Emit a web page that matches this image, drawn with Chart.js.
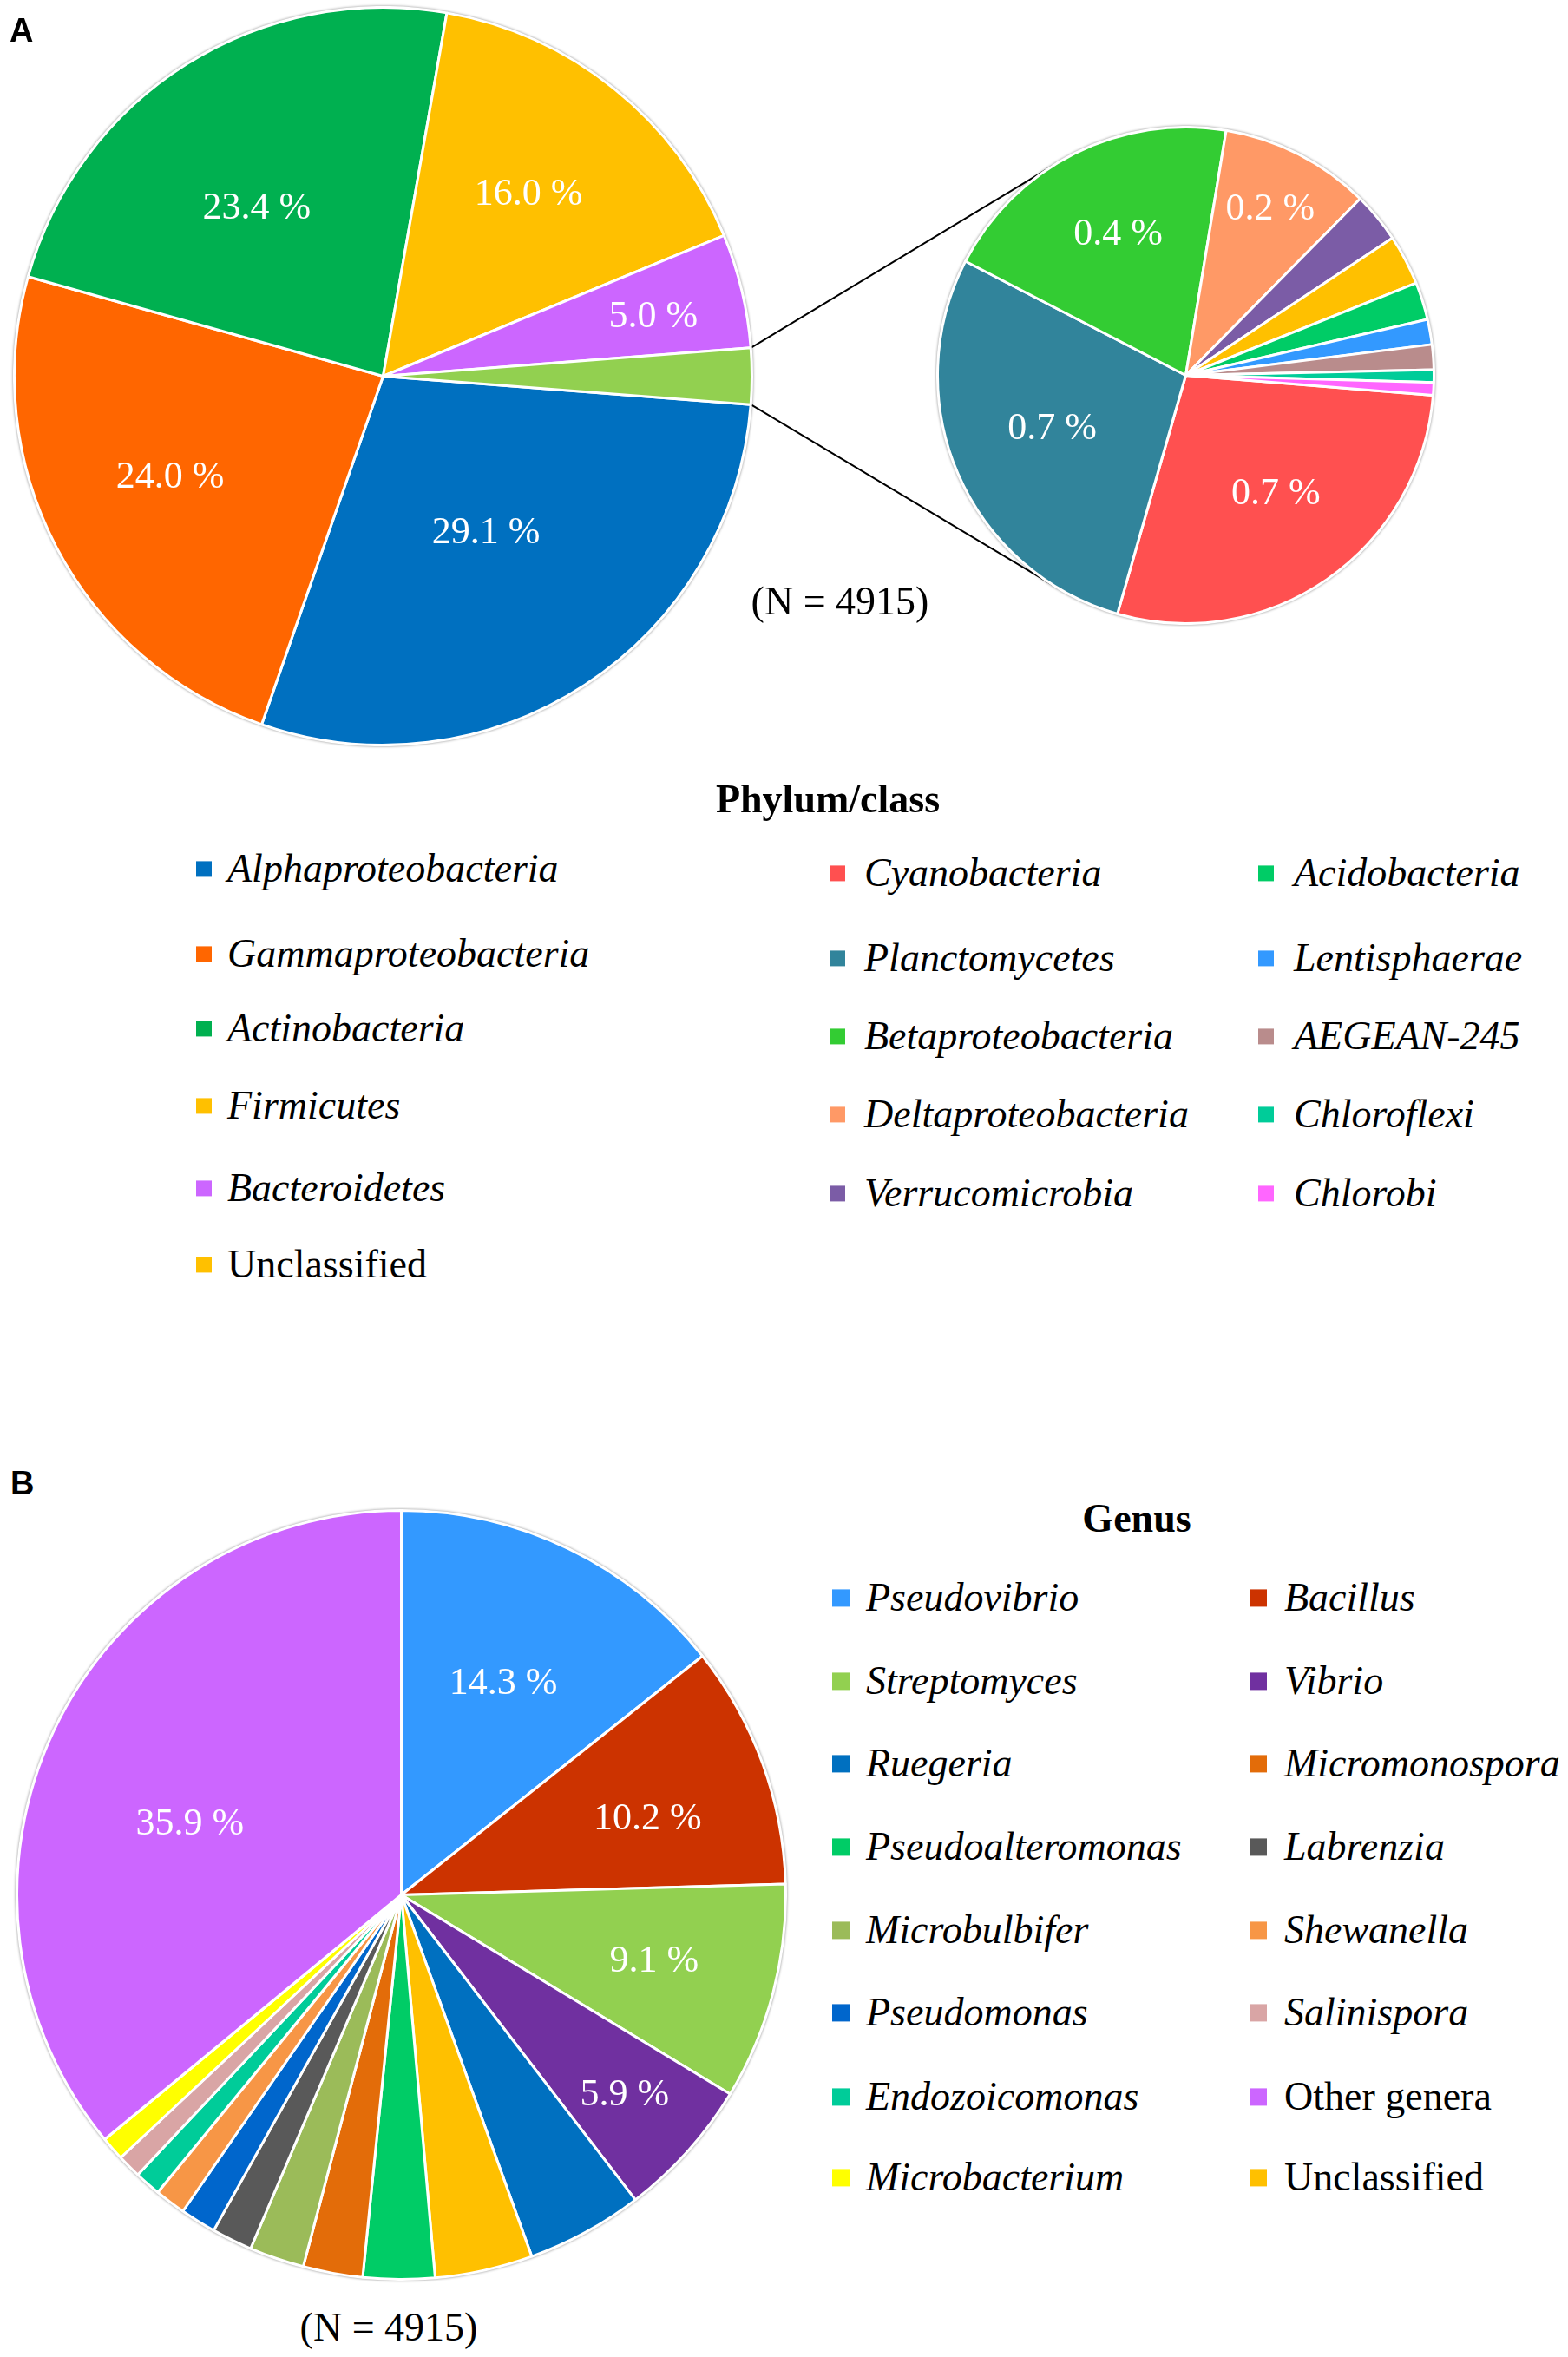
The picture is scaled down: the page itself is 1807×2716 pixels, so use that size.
<!DOCTYPE html>
<html>
<head>
<meta charset="utf-8">
<title>Phylum/class and genus composition</title>
<script src="https://cdn.jsdelivr.net/npm/chart.js@4.4.1/dist/chart.umd.min.js"></script>
<style>
  html, body { margin: 0; padding: 0; background: #fff; }
  #page {
    position: relative; width: 1807px; height: 2716px; overflow: hidden;
    font-family: "Liberation Serif", "Times New Roman", serif; color: #000;
  }
  #page > * { position: absolute; }
  .pie { filter: drop-shadow(0 0 1.5px rgba(0, 0, 0, 0.45)); }
  .tag { font-family: "Liberation Sans", Arial, sans-serif; font-weight: bold; font-size: 38px; line-height: 1; }
  .note { font-size: 46px; line-height: 1; white-space: nowrap; transform: translate(-50%, -50%); }
  .legend-title { font-weight: bold; font-size: 46px; line-height: 1; transform: translate(-50%, -50%); }
  .item { display: flex; align-items: center; white-space: nowrap; font-size: 46px; line-height: 1.2; transform: translateY(-50%); }
  .item .box { display: inline-block; flex: none; }
  .item .name { font-style: italic; }
  .item .name.plain { font-style: normal; }
</style>
</head>
<body>
<div id="page">
  <canvas id="connectors" width="1807" height="900" style="left:0;top:0"></canvas>
  <canvas id="phylumMainChart" class="pie" width="853" height="853" style="left:15px;top:7px"></canvas>
  <canvas id="phylumDetailChart" class="pie" width="575" height="575" style="left:1079px;top:145px"></canvas>
  <canvas id="genusChart" class="pie" width="889" height="889" style="left:18px;top:1739px"></canvas>

  <div class="tag" style="left:11px;top:16px">A</div>
  <div class="tag" style="left:12px;top:1690px">B</div>
  <div class="note" style="left:968px;top:693px">(N = 4915)</div>
  <div class="note" style="left:448px;top:2682px">(N = 4915)</div>
  <div class="legend-title" style="left:954px;top:921px">Phylum/class</div>
  <div class="legend-title" style="left:1310px;top:1750px">Genus</div>
</div>

<script>
// ---- data (percent of N = 4915) ----
const phylumMainLabels = ['Alphaproteobacteria', 'Gammaproteobacteria', 'Actinobacteria', 'Firmicutes', 'Bacteroidetes'];
const phylumMainValues = [29.1, 24.0, 23.4, 16.0, 5.0];
const phylumMainColors = ['#0070C0', '#FF6600', '#00B050', '#FFC000', '#CC66FF'];
const phylumOtherColor = '#92D050';

const phylumDetailLabels = ['Cyanobacteria', 'Planctomycetes', 'Betaproteobacteria', 'Deltaproteobacteria',
  'Verrucomicrobia', 'Unclassified', 'Acidobacteria', 'Lentisphaerae', 'AEGEAN-245', 'Chloroflexi', 'Chlorobi'];
const phylumDetailValues = [0.69, 0.69, 0.49, 0.24, 0.08, 0.08, 0.06, 0.04, 0.04, 0.02, 0.02];
const phylumDetailColors = ['#FF5050', '#31849B', '#33CC33', '#FF9966', '#7B5CA6', '#FFC000',
  '#00CC66', '#3399FF', '#B98C8C', '#00CC99', '#FF66FF'];
const phylumDetailShown = ['0.7 %', '0.7 %', '0.4 %', '0.2 %', '', '', '', '', '', '', ''];

const genusLabels = ['Pseudovibrio', 'Bacillus', 'Streptomyces', 'Vibrio', 'Ruegeria', 'Unclassified',
  'Pseudoalteromonas', 'Micromonospora', 'Microbulbifer', 'Labrenzia', 'Pseudomonas', 'Shewanella',
  'Endozoicomonas', 'Salinispora', 'Microbacterium', 'Other genera'];
const genusValues = [14.3, 10.2, 9.1, 5.9, 4.9, 4.1, 3.0, 2.5, 2.3, 1.7, 1.5, 1.3, 1.1, 1.0, 1.0, 35.9];
const genusColors = ['#3399FF', '#CC3300', '#92D050', '#7030A0', '#0070C0', '#FFC000',
  '#00CC66', '#E36C09', '#9BBB59', '#595959', '#0066CC', '#F79646',
  '#00CC99', '#D9A5A5', '#FFFF00', '#CC66FF'];

// legend columns, in the order they are printed
const phylumLegendCols = [
  ['Alphaproteobacteria', 'Gammaproteobacteria', 'Actinobacteria', 'Firmicutes', 'Bacteroidetes', 'Unclassified'],
  ['Cyanobacteria', 'Planctomycetes', 'Betaproteobacteria', 'Deltaproteobacteria', 'Verrucomicrobia'],
  ['Acidobacteria', 'Lentisphaerae', 'AEGEAN-245', 'Chloroflexi', 'Chlorobi']
];
const genusLegendCols = [
  ['Pseudovibrio', 'Streptomyces', 'Ruegeria', 'Pseudoalteromonas', 'Microbulbifer', 'Pseudomonas', 'Endozoicomonas', 'Microbacterium'],
  ['Bacillus', 'Vibrio', 'Micromonospora', 'Labrenzia', 'Shewanella', 'Salinispora', 'Other genera', 'Unclassified']
];
const uprightNames = ['Unclassified', 'Other genera'];

// ---- layout (pixels on the page) ----
const phylumLegendLayout = [
  { box: 226, text: 262, rows: [1001, 1099, 1185, 1274, 1369, 1457] },
  { box: 956, text: 996, rows: [1006, 1104, 1194, 1284, 1375] },
  { box: 1450, text: 1491, rows: [1006, 1104, 1194, 1284, 1375] }
];
const genusLegendLayout = [
  { box: 959, text: 998, rows: [1841, 1937, 2032, 2128, 2224, 2319, 2416, 2509] },
  { box: 1440, text: 1480, rows: [1841, 1937, 2032, 2128, 2224, 2319, 2416, 2509] }
];
// where each value label sits: share of the radius, and turn (degrees) off the slice middle
const phylumMainLabelPos = [[0.51, 0], [0.64, 2], [0.57, -4.8], [0.63, 0], [0.75, 1]];
const phylumDetailLabelPos = [[0.60, -2.5], [0.58, 1.4], [0.63, 1], [0.75, 0]];
const genusLabelPos = [[0.61, 0], [0.67, 3], [0.68, 0], [0.78, 0], [], [], [], [], [], [], [], [], [], [], [], [0.58, -6.8]];

/** Draws white value labels inside the slices */
const sliceLabels = {
  id: 'sliceLabels',
  afterDatasetsDraw(chart, args, opts) {
    const ctx = chart.ctx;
    const texts = opts.texts || [];
    const pos = opts.pos || [];
    ctx.save();
    ctx.font = '44px "Liberation Serif", "Times New Roman", serif';
    ctx.fillStyle = '#ffffff';
    ctx.textAlign = 'center';
    ctx.textBaseline = 'middle';
    chart.getDatasetMeta(0).data.forEach((arc, i) => {
      if (!texts[i]) return;
      const [f, turn] = pos[i] && pos[i].length ? pos[i] : [0.6, 0];
      const mid = (arc.startAngle + arc.endAngle) / 2 + turn * Math.PI / 180;
      ctx.fillText(texts[i], arc.x + Math.cos(mid) * arc.outerRadius * f,
        arc.y + Math.sin(mid) * arc.outerRadius * f);
    });
    ctx.restore();
  }
};

function pieChart(id, labels, values, colors, texts, pos, rotation) {
  return new Chart(document.getElementById(id), {
    type: 'pie',
    data: {
      labels: labels,
      datasets: [{ data: values, backgroundColor: colors, borderColor: '#ffffff', borderWidth: 3 }]
    },
    options: {
      responsive: false,
      animation: false,
      devicePixelRatio: 1,
      rotation: rotation,
      events: [],
      layout: { padding: 0 },
      plugins: {
        legend: { display: false },
        tooltip: { enabled: false },
        sliceLabels: { texts: texts, pos: pos }
      }
    },
    plugins: [sliceLabels]
  });
}

/** Lines from the edges of the "other" slice, tangent to the detail pie */
function drawConnectors(mainChart, detailChart) {
  const ctx = document.getElementById('connectors').getContext('2d');
  const mainCanvas = mainChart.canvas;
  const detailCanvas = detailChart.canvas;
  const metaData = mainChart.getDatasetMeta(0).data;
  const arc = metaData[metaData.length - 1];
  const ref = detailChart.getDatasetMeta(0).data[0];
  const cx = detailCanvas.offsetLeft + ref.x;
  const cy = detailCanvas.offsetTop + ref.y;
  const r = ref.outerRadius;

  ctx.strokeStyle = '#000';
  ctx.lineWidth = 2;
  [[arc.startAngle, 1], [arc.endAngle, -1]].forEach(([angle, side]) => {
    const px = mainCanvas.offsetLeft + arc.x + Math.cos(angle) * arc.outerRadius;
    const py = mainCanvas.offsetTop + arc.y + Math.sin(angle) * arc.outerRadius;
    const d = Math.hypot(px - cx, py - cy);
    const t = Math.atan2(py - cy, px - cx) + side * Math.acos(r / d);
    ctx.beginPath();
    ctx.moveTo(px, py);
    ctx.lineTo(cx + Math.cos(t) * r, cy + Math.sin(t) * r);
    ctx.stroke();
  });
}

/** Builds legend columns of coloured squares and names */
function buildLegend(cols, layout, colorOf, boxSize) {
  const page = document.getElementById('page');
  cols.forEach((names, c) => {
    names.forEach((name, r) => {
      const item = document.createElement('div');
      item.className = 'item';
      item.style.left = layout[c].box + 'px';
      item.style.top = layout[c].rows[r] + 'px';
      const box = document.createElement('span');
      box.className = 'box';
      box.style.width = boxSize + 'px';
      box.style.height = boxSize + 'px';
      box.style.background = colorOf(name);
      box.style.marginRight = (layout[c].text - layout[c].box - boxSize) + 'px';
      const label = document.createElement('span');
      label.className = uprightNames.includes(name) ? 'name plain' : 'name';
      label.textContent = name;
      item.appendChild(box);
      item.appendChild(label);
      page.appendChild(item);
    });
  });
}

function init() {
  const phylumOther = phylumDetailValues.reduce((a, b) => a + b, 0);
  const phylumAll = phylumMainValues.concat([phylumOther]);
  const phylumTotal = phylumAll.reduce((a, b) => a + b, 0);

  // main pie: the "other" slice sits centred on the right, facing the detail pie
  const mainChart = pieChart('phylumMainChart',
    phylumMainLabels.concat(['Other']), phylumAll, phylumMainColors.concat([phylumOtherColor]),
    phylumAll.map(v => v >= 5 ? v.toFixed(1) + ' %' : ''), phylumMainLabelPos,
    90 + phylumOther / phylumTotal * 180);

  const detailChart = pieChart('phylumDetailChart',
    phylumDetailLabels, phylumDetailValues, phylumDetailColors, phylumDetailShown, phylumDetailLabelPos, 94.6);

  pieChart('genusChart', genusLabels, genusValues, genusColors,
    genusValues.map(v => v >= 5.5 ? v.toFixed(1) + ' %' : ''), genusLabelPos, 0);

  drawConnectors(mainChart, detailChart);
}

const phylumColorOf = name => {
  const i = phylumMainLabels.indexOf(name);
  return i >= 0 ? phylumMainColors[i] : phylumDetailColors[phylumDetailLabels.indexOf(name)];
};
const genusColorOf = name => genusColors[genusLabels.indexOf(name)];

buildLegend(phylumLegendCols, phylumLegendLayout, phylumColorOf, 18);
buildLegend(genusLegendCols, genusLegendLayout, genusColorOf, 20);

// canvas text needs the serif face loaded before the pies are drawn
document.fonts.load('44px "Liberation Serif"').then(init, init);
</script>
</body>
</html>
